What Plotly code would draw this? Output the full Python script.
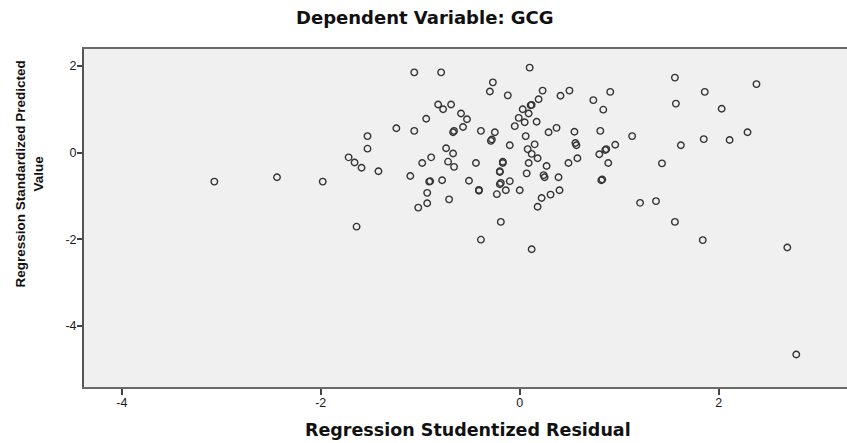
import plotly.graph_objects as go

# Regression Studentized Residual (x) and Regression Standardized Predicted Value (y)
x_resid = [
    -1.53, -1.53, -1.72, -1.66, -1.59, -1.42, -3.07, -2.44, -1.98, -1.64,
    -1.06, -0.79, 0.10, -0.27, -0.30, -0.12, 0.23, 0.50, 0.41, 0.19,
    0.12, 0.11, 0.03, 0.09, -0.01, 0.05, 0.17, -0.05, -0.82, -0.69,
    -0.77, -0.59, -0.53, -0.57, -0.94, -1.24, -1.06, -0.66, -0.67, -0.39,
    -0.25, -0.29, -0.28, 0.06, 0.29, 0.37, 0.55, 0.81, 0.74, 0.84,
    0.91, 1.13, 1.56, 1.57, 1.62, -0.10, 0.15, 0.08, 0.12, 0.18,
    0.09, 0.27, 0.07, 0.24, 0.25, 0.39, 0.40, 0.31, 0.22, 0.18,
    0.56, 0.57, 0.58, 0.49, 0.80, 0.87, 0.86, 0.96, 0.89, 0.82,
    0.83, 1.43, 1.21, 1.37, 1.56, -0.74, -0.67, -0.89, -0.98, -0.72,
    -0.66, -0.44, -0.17, -0.17, -0.20, -0.20, -0.10, -0.20, -0.19, -0.14,
    0.00, -0.23, -0.41, -0.41, -0.51, -0.78, -0.90, -0.91, -1.10, -0.93,
    -0.71, -0.93, -1.02, -0.19, -0.39, 0.12,
    1.86, 2.03, 2.38, 1.85, 2.11, 2.29, 1.84, 2.69, 2.78,
]
y_pred = [
    0.38, 0.09, -0.11, -0.23, -0.35, -0.43, -0.67, -0.57, -0.67, -1.71,
    1.85, 1.85, 1.96, 1.62, 1.41, 1.32, 1.43, 1.43, 1.31, 1.23,
    1.10, 1.09, 1.00, 0.90, 0.80, 0.70, 0.71, 0.61, 1.11, 1.11,
    1.00, 0.90, 0.77, 0.59, 0.78, 0.56, 0.50, 0.50, 0.47, 0.50,
    0.47, 0.27, 0.30, 0.38, 0.47, 0.57, 0.48, 0.50, 1.21, 0.99,
    1.40, 0.38, 1.73, 1.13, 0.17, 0.17, 0.19, 0.08, -0.03, -0.13,
    -0.24, -0.31, -0.48, -0.52, -0.57, -0.57, -0.87, -0.97, -1.05, -1.25,
    0.22, 0.17, -0.13, -0.24, -0.04, 0.08, 0.06, 0.18, -0.24, -0.64,
    -0.62, -0.25, -1.16, -1.12, -1.60, 0.10, -0.02, -0.11, -0.24, -0.21,
    -0.33, -0.24, -0.24, -0.21, -0.45, -0.43, -0.66, -0.73, -0.70, -0.87,
    -0.87, -0.96, -0.86, -0.88, -0.65, -0.64, -0.66, -0.67, -0.54, -0.93,
    -1.08, -1.17, -1.27, -1.60, -2.01, -2.23,
    1.40, 1.01, 1.58, 0.31, 0.29, 0.47, -2.02, -2.19, -4.66,
]

x_ticks = [-4, -2, 0, 2]
x_tick_labels = ["-4", "-2", "0", "2"]
y_ticks = [2, 0, -2, -4]
y_tick_labels = ["2", "0", "-2", "-4"]

title_text = "Dependent Variable: GCG"
x_title = "Regression Studentized Residual"
y_title = "Regression Standardized Predicted<br>Value"

fig = go.Figure(
    go.Scatter(
        x=x_resid,
        y=y_pred,
        mode="markers",
        marker=dict(
            symbol="circle-open",
            size=6.5,
            color="#333333",
            line=dict(width=1.4, color="#333333"),
        ),
        hoverinfo="skip",
    )
)

axis_font = dict(family="Liberation Sans, Arial, sans-serif", size=12.5, color="#1a1a1a")

fig.update_layout(
    width=847,
    height=443,
    margin=dict(l=84, r=0, t=49, b=56),
    paper_bgcolor="white",
    plot_bgcolor="#F0F0F0",
    showlegend=False,
    xaxis=dict(
        range=[-4.38, 3.29],
        tickvals=x_ticks,
        ticktext=x_tick_labels,
        ticks="outside",
        ticklen=6,
        tickwidth=1.5,
        tickcolor="#444444",
        tickfont=axis_font,
        ticklabelstandoff=-3,
        showgrid=False,
        zeroline=False,
        showline=True,
        linecolor="#6a6a6a",
        linewidth=2,
        mirror=True,
        automargin=False,
    ),
    yaxis=dict(
        range=[-5.41, 2.39],
        tickvals=y_ticks,
        ticktext=y_tick_labels,
        ticks="outside",
        ticklen=5,
        tickwidth=1.5,
        tickcolor="#444444",
        tickfont=axis_font,
        ticklabelstandoff=-2,
        showgrid=False,
        zeroline=False,
        showline=True,
        linecolor="#555555",
        linewidth=2,
        mirror=False,
        automargin=False,
    ),
    annotations=[
        dict(
            text="<b>" + title_text + "</b>",
            xref="paper", yref="paper",
            x=0.447, y=1.094,
            xanchor="center", yanchor="middle",
            showarrow=False,
            font=dict(family="DejaVu Sans, sans-serif", size=18, color="#111111"),
        ),
        dict(
            text="<b>" + x_title + "</b>",
            xref="paper", yref="paper",
            x=0.5036, y=-0.127,
            xanchor="center", yanchor="middle",
            showarrow=False,
            font=dict(family="DejaVu Sans, sans-serif", size=17.5, color="#111111"),
        ),
        dict(
            text="<b>" + y_title + "</b>",
            xref="paper", yref="paper",
            x=-0.0714, y=0.63,
            xanchor="center", yanchor="middle",
            textangle=-90,
            showarrow=False,
            font=dict(family="Liberation Sans, Arial, sans-serif", size=13.5, color="#111111"),
        ),
    ],
)

fig.write_html(
    "out.html",
    config={"displayModeBar": False},
    post_script="document.body.style.margin='0';document.body.style.overflow='hidden';",
)
